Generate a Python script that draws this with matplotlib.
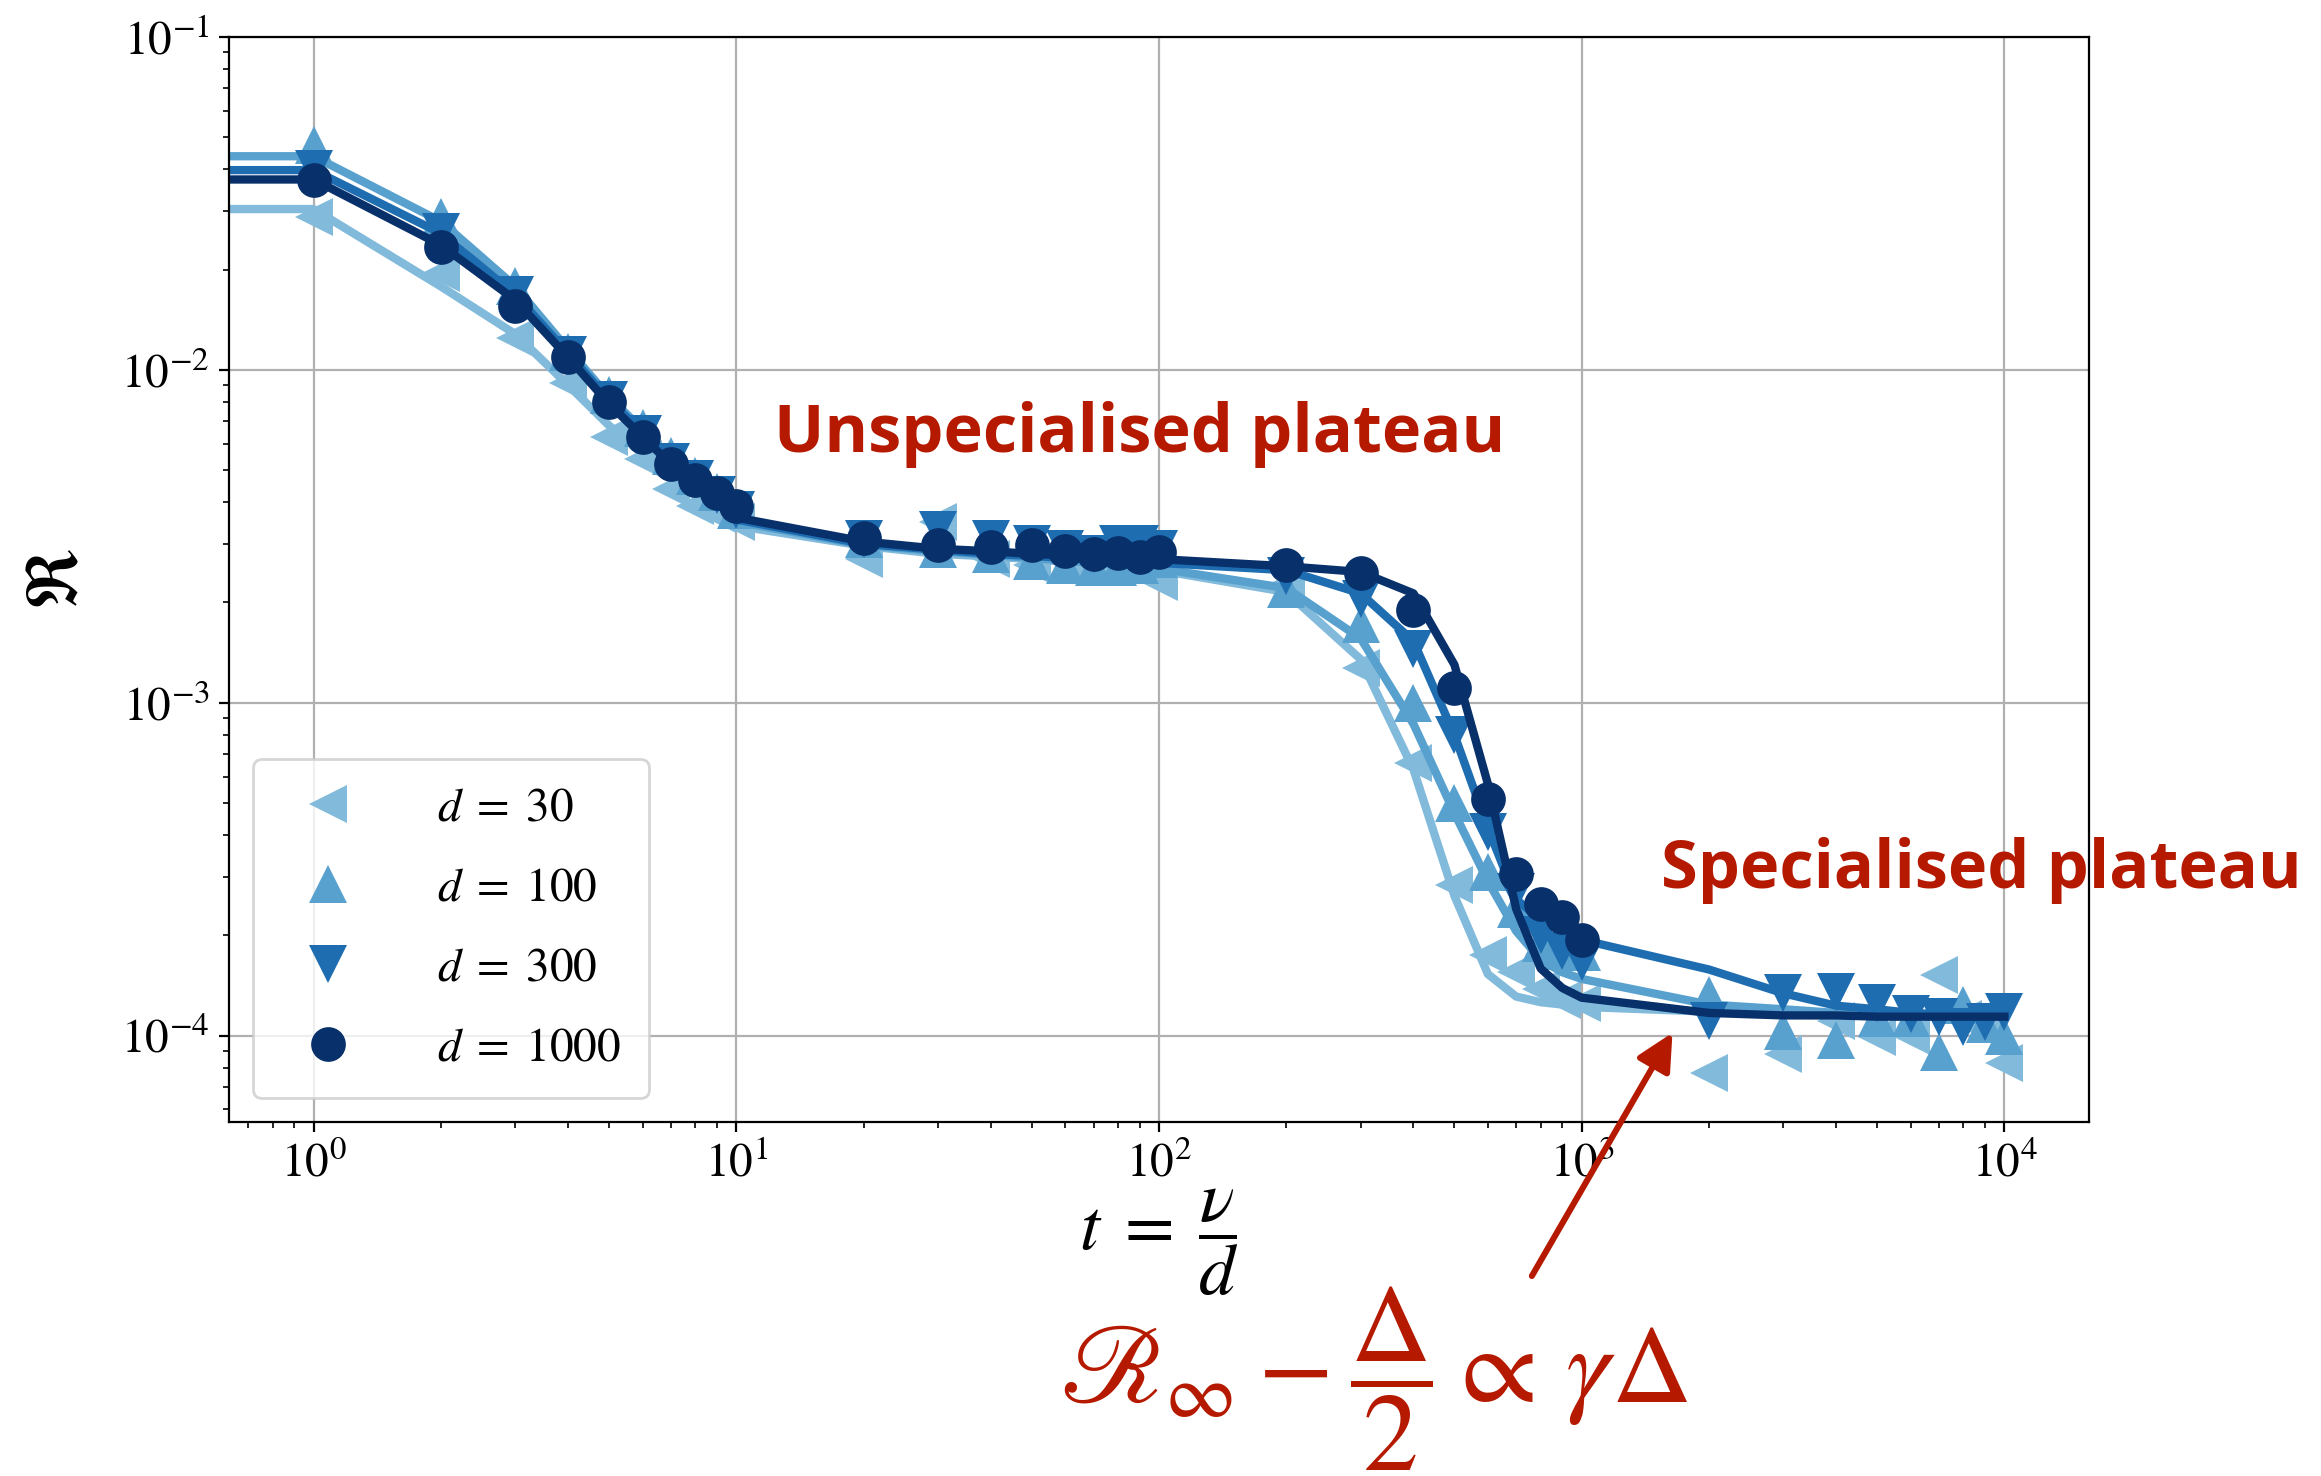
import matplotlib
matplotlib.use("Agg")
import matplotlib.pyplot as plt

plt.rcParams["font.family"] = "STIXGeneral"
plt.rcParams["mathtext.fontset"] = "stix"

# simulation times (d = 1000 stops at t = 1000)
t_sim = [1, 2, 3, 4, 5, 6, 7, 8, 9, 10,
         20, 30, 40, 50, 60, 70, 80, 90, 100,
         200, 300, 400, 500, 600, 700, 800, 900, 1000,
         2000, 3000, 4000, 5000, 6000, 7000, 8000, 9000, 10000]
# theory curve times, starting from t = 0
t_theory = [0] + t_sim

sim_30 = [0.0288, 0.0195, 0.01245, 0.0091, 0.0063, 0.0054, 0.0044, 0.0039, 0.0037, 0.0035,
          0.0027, 0.0035, 0.0027, 0.0026, 0.0027, 0.0027, 0.0028, 0.0026, 0.0023,
          0.00225, 0.00127, 0.00066, 0.000284, 0.000175, 0.000155, 0.000138, 0.000128, 0.000125,
          7.7e-5, 8.8e-5, 0.000111, 9.9e-5, 0.0001, 0.000152, 0.000112, 0.000108, 8.3e-5]
sim_100 = [0.0473, 0.0288, 0.0179, 0.0113, 0.0084, 0.0067, 0.0055, 0.0048, 0.0043, 0.0038,
           0.0031, 0.0029, 0.0028, 0.00266, 0.0026, 0.00255, 0.00255, 0.0026, 0.0027,
           0.0022, 0.00172, 0.0010, 0.0005, 0.00031, 0.00024, 0.00019, 0.00018, 0.000178,
           0.000132, 0.0001035, 9.7e-5, 0.000113, 0.000113, 8.9e-5, 0.000124, 0.000108, 0.0001]
sim_300 = [0.040, 0.026, 0.0168, 0.0111, 0.0081, 0.0064, 0.0053, 0.0047, 0.0042, 0.0038,
           0.0031, 0.0033, 0.0031, 0.0030, 0.0029, 0.0028, 0.0030, 0.0030, 0.0029,
           0.0024, 0.00205, 0.00145, 0.0008, 0.00041, 0.00027, 0.0002, 0.00018, 0.000166,
           0.000111, 0.000134, 0.000135, 0.000125, 0.000116, 0.000114, 0.000106, 0.00011, 0.000118]
sim_1000 = [0.0371, 0.0234, 0.0156, 0.0109, 0.0080, 0.0063, 0.0052, 0.00466, 0.00426, 0.0039,
            0.00312, 0.00297, 0.00294, 0.00297, 0.00286, 0.0028, 0.00282, 0.00274, 0.00283,
            0.00259, 0.00245, 0.0019, 0.00111, 0.000514, 0.000306, 0.000248, 0.000227, 0.000194]

theory_30 = [0.0304, 0.0304, 0.0178, 0.0128, 0.0090, 0.0068, 0.0056, 0.0047, 0.0042, 0.0038, 0.0034,
             0.00296, 0.0028, 0.00275, 0.0027, 0.00265, 0.0026, 0.00257, 0.00254, 0.0025,
             0.00215, 0.00135, 0.00063, 0.000263, 0.000153, 0.000131, 0.000126, 0.000124, 0.000122,
             0.000118, 0.000116, 0.000115, 0.000115, 0.000115, 0.000114, 0.000114, 0.000114, 0.000114]
theory_100 = [0.0438, 0.0438, 0.0279, 0.0178, 0.0115, 0.0083, 0.0066, 0.0054, 0.0046, 0.0041, 0.0035,
              0.00298, 0.00285, 0.00278, 0.00272, 0.00267, 0.00263, 0.0026, 0.00257, 0.00253,
              0.00221, 0.00156, 0.000863, 0.000466, 0.000291, 0.000206, 0.000169, 0.000155, 0.000148,
              0.000124, 0.00012, 0.000117, 0.000116, 0.000115, 0.000115, 0.000115, 0.000114, 0.000114]
theory_300 = [0.0398, 0.0398, 0.0257, 0.0168, 0.0112, 0.0081, 0.0065, 0.0053, 0.0046, 0.0041, 0.00355,
              0.0030, 0.00288, 0.0028, 0.00276, 0.00272, 0.0027, 0.00268, 0.00265, 0.00263,
              0.0025, 0.00213, 0.00153, 0.0008, 0.00042, 0.000257, 0.000222, 0.000206, 0.000194,
              0.000158, 0.000134, 0.000123, 0.00012, 0.000117, 0.000116, 0.000115, 0.000115, 0.000115]
theory_1000 = [0.0373, 0.0373, 0.0237, 0.0162, 0.0109, 0.0079, 0.0063, 0.0052, 0.0045, 0.0040, 0.0036,
               0.00305, 0.0029, 0.00285, 0.0028, 0.00277, 0.00275, 0.00272, 0.0027, 0.0027,
               0.00257, 0.00247, 0.00213, 0.0013, 0.00057, 0.00024, 0.000159, 0.000139, 0.00013,
               0.000117, 0.000115, 0.000115, 0.000114, 0.000114, 0.000114, 0.000114, 0.000114, 0.000114]

dims = [30, 100, 300, 1000]
sims = [sim_30, sim_100, sim_300, sim_1000]
theories = [theory_30, theory_100, theory_300, theory_1000]
markers = ["<", "^", "v", "o"]
msizes = [13.5, 13.5, 13.5, 12.5]
colors = ["#82badb", "#58a1cf", "#1f6db1", "#08306b"]
red = "#b51a00"

fig = plt.figure(figsize=(11.605, 7.38), dpi=200)
ax = fig.add_axes([0.0987, 0.2398, 0.8013, 0.7352])
ax.set_xscale("log")
ax.set_yscale("log")

handles = []
for d, s, th, m, ms, c in zip(dims, sims, theories, markers, msizes, colors):
    ax.plot(t_theory, th, color=c, lw=3)
    h, = ax.plot(t_sim[:len(s)], s, linestyle="none", marker=m, ms=ms,
                 color=c, markeredgewidth=0, label=rf"$d\;=\;{d}$")
    handles.append(h)

ax.set_ylim(5.5e-5, 0.1)
ax.grid(True, which="major", color="#b0b0b0", lw=0.8)
ax.tick_params(labelsize=17)

ax.set_xlabel(r"$t\;=\;\dfrac{\nu}{d}$", fontsize=26, labelpad=0)
ax.set_ylabel(r"$\Re$", fontsize=26, labelpad=10)

ax.legend(handles=handles, loc="lower left", fontsize=17, handletextpad=1.3,
          labelspacing=0.78, borderpad=0.6)

ax.text(12.3, 0.0064, "Unspecialised plateau", color=red, fontsize=24,
        fontweight="bold", family="Open Sans", ha="left", va="center")
ax.text(1540, 3.13e-4, "Specialised plateau", color=red, fontsize=24,
        fontweight="bold", family="Open Sans", ha="left", va="center", clip_on=False)

ax.annotate("", xy=(1640, 1.02e-4), xycoords="data",
            xytext=(0.660, 0.1355), textcoords="figure fraction",
            arrowprops=dict(arrowstyle="-|>", color=red, lw=2.2, mutation_scale=28,
                            shrinkA=0, shrinkB=0))
fig.text(0.592, 0.066, r"$\mathscr{R}_\infty - \dfrac{\Delta}{2} \propto\,\gamma\Delta$",
         color=red, fontsize=40, ha="center", va="center")

fig.savefig("out.png", dpi=200)
